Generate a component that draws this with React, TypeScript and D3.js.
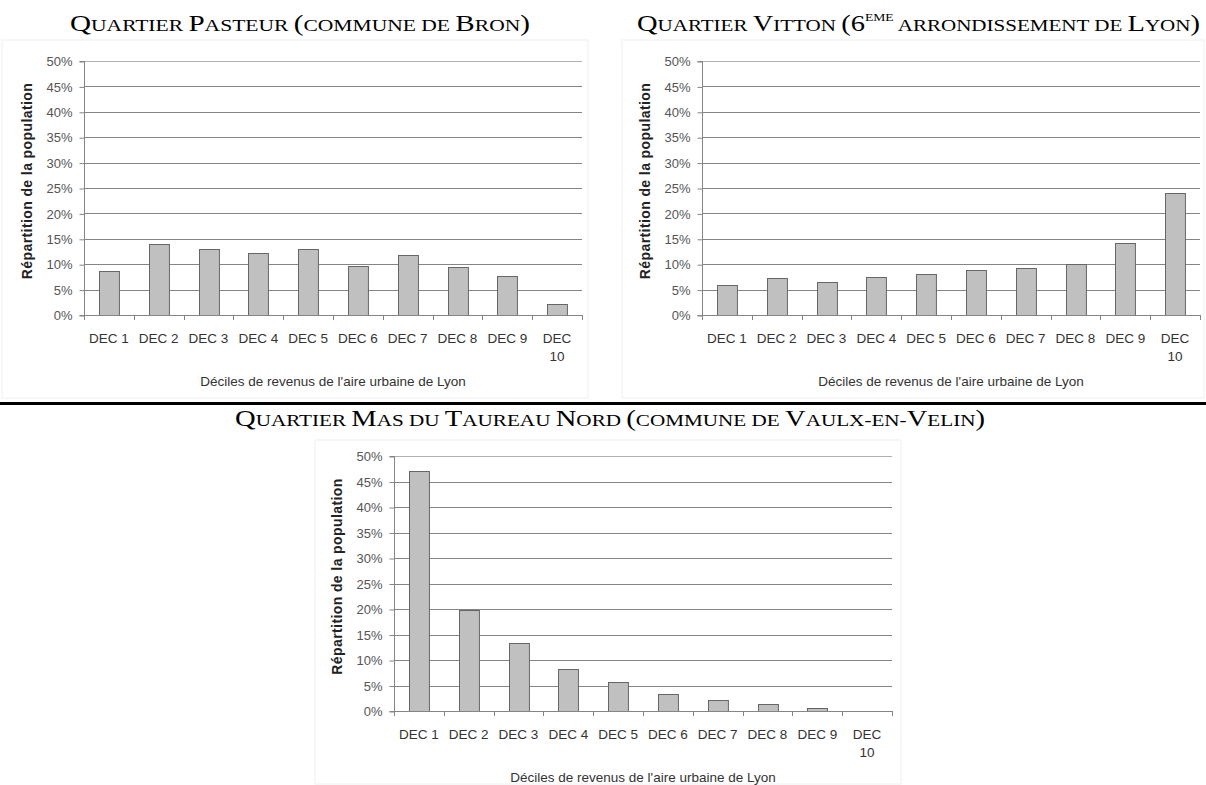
import { useEffect, useRef } from 'react';
import * as d3 from 'd3';

const categories = ['DEC 1', 'DEC 2', 'DEC 3', 'DEC 4', 'DEC 5', 'DEC 6', 'DEC 7', 'DEC 8', 'DEC 9', 'DEC 10'];
const yTicks = [0, 5, 10, 15, 20, 25, 30, 35, 40, 45, 50];

const pasteur = [8.6, 13.9, 13.0, 12.3, 13.0, 9.6, 11.9, 9.5, 7.6, 2.1];
const vitton = [6.0, 7.2, 6.4, 7.5, 8.0, 8.8, 9.2, 10.0, 14.2, 24.0];
const masDuTaureau = [47.1, 19.9, 13.4, 8.3, 5.6, 3.3, 2.2, 1.3, 0.6, 0];

const xTitle = "Déciles de revenus de l'aire urbaine de Lyon";
const yTitle = 'Répartition de la population';

const sans = 'Arial, "Liberation Sans", sans-serif';

interface PanelBox {
  left: number;
  right: number;
  top: number;
  bottom: number;
  frame: [number, number, number, number];
}

function drawPanel(svg: d3.Selection<SVGSVGElement, unknown, null, undefined>, values: number[], box: PanelBox) {
  const g = svg.append('g');
  const x = d3.scaleBand<string>().domain(categories).range([box.left, box.right]).paddingInner(0.6).paddingOuter(0.3);
  const xEdges = d3.scaleBand<string>().domain(categories).range([box.left, box.right]);
  const y = d3.scaleLinear().domain([0, 50]).range([box.bottom, box.top]);

  // faint chart frame
  const [fx, fy, fw, fh] = box.frame;
  g.append('rect')
    .attr('x', fx).attr('y', fy).attr('width', fw).attr('height', fh)
    .attr('fill', 'none').attr('stroke', '#f0f0f0').attr('stroke-width', 1);

  // gridlines
  g.selectAll('.grid')
    .data(yTicks.filter(t => t > 0))
    .enter()
    .append('line')
    .attr('x1', box.left).attr('x2', box.right)
    .attr('y1', d => Math.round(y(d)) + 0.5).attr('y2', d => Math.round(y(d)) + 0.5)
    .attr('stroke', d => (d === 50 ? '#b0b0b0' : '#858585'))
    .attr('stroke-width', 1);

  // bars
  g.selectAll('.bar')
    .data(values)
    .enter()
    .append('rect')
    .attr('x', (_, i) => Math.round(x(categories[i])!) + 0.5)
    .attr('y', d => Math.round(y(d)) + 0.5)
    .attr('width', x.bandwidth())
    .attr('height', d => Math.max(0, Math.round(y(0)) - Math.round(y(d))))
    .attr('fill', '#c0c0c0')
    .attr('stroke', d => (d > 0 ? '#666' : 'none'))
    .attr('stroke-width', 1);

  // y axis
  const yAxis = d3.axisLeft(y).tickValues(yTicks).tickSize(5).tickPadding(7).tickFormat(d => `${d}%`);
  const ya = g.append('g').attr('transform', `translate(${box.left + 0.5},0.5)`).call(yAxis);
  ya.selectAll('path,line').attr('stroke', '#858585');
  ya.select('.domain').attr('d', `M-5,${box.bottom}H0V${box.top}H-5`);
  ya.selectAll('text')
    .attr('font-family', sans).attr('font-size', 13)
    .attr('fill', '#555');

  // x axis with boundary ticks
  const xa = g.append('g');
  xa.append('line')
    .attr('x1', box.left).attr('x2', box.right)
    .attr('y1', Math.round(y(0)) + 0.5).attr('y2', Math.round(y(0)) + 0.5)
    .attr('stroke', '#858585');
  const edges = categories.map(c => xEdges(c)!).concat([box.right]);
  xa.selectAll('.tick')
    .data(edges)
    .enter()
    .append('line')
    .attr('x1', d => Math.round(d) + 0.5).attr('x2', d => Math.round(d) + 0.5)
    .attr('y1', Math.round(y(0))).attr('y2', Math.round(y(0)) + 5)
    .attr('stroke', '#858585');

  // category labels (DEC 10 wraps)
  const labels = g.selectAll('.lab')
    .data(categories)
    .enter()
    .append('text')
    .attr('text-anchor', 'middle')
    .attr('font-family', sans)
    .attr('font-size', 13.5)
    .attr('fill', '#333');
  labels.each(function (d) {
    const t = d3.select(this);
    const cx = xEdges(d)! + xEdges.bandwidth() / 2;
    const parts = d === 'DEC 10' ? ['DEC', '10'] : [d];
    parts.forEach((p, i) => {
      t.append('tspan').attr('x', cx).attr('y', box.bottom + 27.5 + i * 18.5).text(p);
    });
  });

  // axis titles
  g.append('text')
    .attr('x', (box.left + box.right) / 2)
    .attr('y', box.bottom + 71)
    .attr('text-anchor', 'middle')
    .attr('font-family', sans)
    .attr('font-size', 13.5)
    .attr('fill', '#333')
    .text(xTitle);

  g.append('text')
    .attr('transform', `translate(${box.left - 52},${(box.top + box.bottom) / 2 - 7}) rotate(-90)`)
    .attr('text-anchor', 'middle')
    .attr('font-family', sans)
    .attr('font-size', 14)
    .attr('font-weight', 'bold')
    .attr('letter-spacing', 0.4)
    .attr('fill', '#222')
    .text(yTitle);
}

// manual small caps: capitals at full size, lower case as smaller capitals
function smallCaps(
  t: d3.Selection<any, unknown, null, undefined>,
  str: string,
  big: number,
  small: number
) {
  const runs: { s: string; big: boolean }[] = [];
  for (const ch of str) {
    const isBig = ch !== ch.toLowerCase() || /[0-9()]/.test(ch);
    const last = runs[runs.length - 1];
    if (last && last.big === isBig) last.s += ch;
    else runs.push({ s: ch, big: isBig });
  }
  runs.forEach(r => {
    t.append('tspan').attr('font-size', r.big ? big : small).text(r.big ? r.s : r.s.toUpperCase());
  });
}

export default function App() {
  const svgRef = useRef<SVGSVGElement>(null);

  useEffect(() => {
    if (!svgRef.current) return;
    const svg = d3.select(svgRef.current);
    svg.selectAll('*').remove();

    drawPanel(svg, pasteur, { left: 84, right: 582, top: 61, bottom: 315, frame: [2, 40, 586, 358] });
    drawPanel(svg, vitton, { left: 702, right: 1200, top: 61, bottom: 315, frame: [622, 40, 582, 358] });
    drawPanel(svg, masDuTaureau, { left: 394, right: 892, top: 456, bottom: 711, frame: [315, 440, 586, 344] });

    // separator
    svg.append('rect').attr('x', 0).attr('y', 402).attr('width', 1206).attr('height', 3).attr('fill', '#000');

    // titles
    const titleFont = '"Liberation Serif", "Times New Roman", serif';
    const BIG = 23;
    const SMALL = 17;
    const title = (x0: number, cy: number, len: number) =>
      svg.append('text')
        .attr('x', x0).attr('y', cy)
        .attr('font-family', titleFont)
        .attr('textLength', len)
        .attr('lengthAdjust', 'spacingAndGlyphs')
        .attr('fill', '#000');

    const t1 = title(70, 31, 460);
    smallCaps(t1, 'Quartier Pasteur (commune de Bron)', BIG, SMALL);

    const t2 = title(637, 31, 563);
    smallCaps(t2, 'Quartier Vitton (6', BIG, SMALL);
    t2.append('tspan').attr('font-size', 11).attr('dy', -10).text('EME');
    t2.append('tspan').attr('font-size', SMALL).attr('dy', 10).text(' ');
    smallCaps(t2, 'arrondissement de Lyon)', BIG, SMALL);

    const t3 = title(235, 426, 750);
    smallCaps(t3, 'Quartier Mas du Taureau Nord (commune de Vaulx-en-Velin)', BIG, SMALL);
  }, []);

  return (
    <svg
      ref={svgRef}
      width={1206}
      height={785}
      style={{ position: 'absolute', left: 0, top: 0, background: '#fff' }}
    />
  );
}
